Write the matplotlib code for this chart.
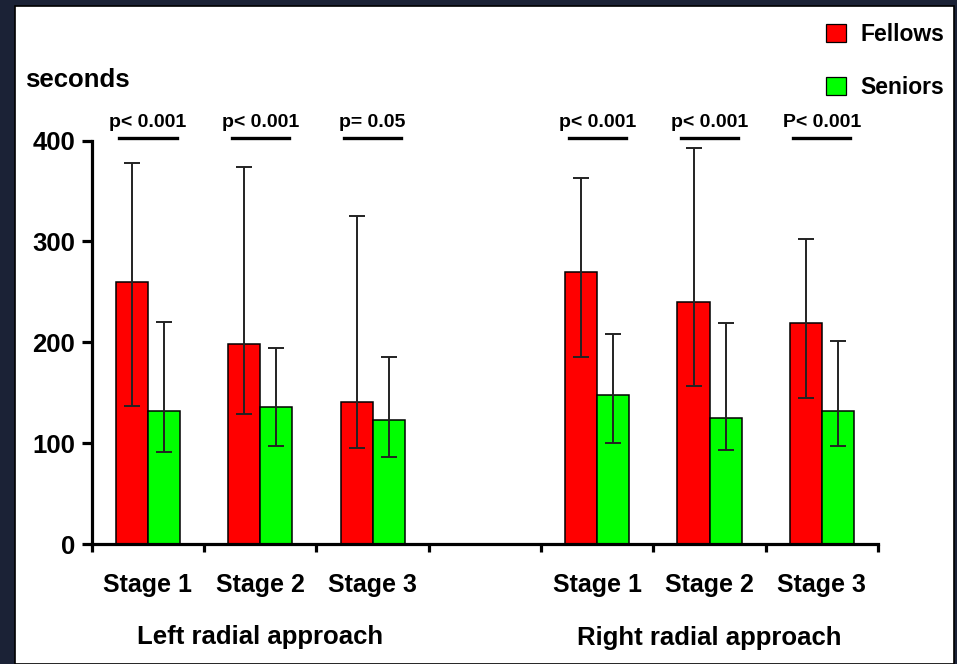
import numpy as np
import matplotlib
matplotlib.use("Agg")
from matplotlib import pyplot as plt
from matplotlib.patches import Patch, Rectangle
from matplotlib.transforms import blended_transform_factory

plt.rcParams['font.family'] = ['Liberation Sans', 'DejaVu Sans']
plt.rcParams['font.weight'] = 'bold'

# data (seconds)
stages = ["Stage 1", "Stage 2", "Stage 3", "Stage 1", "Stage 2", "Stage 3"]
xpos = [0, 1, 2, 4, 5, 6]
fellows = [260, 198, 141, 270, 240, 219]
fellows_lo = [137, 129, 95, 185, 157, 145]
fellows_hi = [378, 374, 325, 363, 393, 302]
seniors = [132, 136, 123, 148, 125, 132]
seniors_lo = [91, 97, 86, 100, 93, 97]
seniors_hi = [220, 194, 185, 208, 219, 201]
pvalues = ["p< 0.001", "p< 0.001", "p= 0.05", "p< 0.001", "p< 0.001", "P< 0.001"]
approaches = ["Left radial approach", "Right radial approach"]

W, H = 957, 664
fig = plt.figure(figsize=(W / 100, H / 100), dpi=100, facecolor="#1b2236")
fig.patches.append(Rectangle((15 / W, 0), (954 - 15) / W, (H - 6) / H, transform=fig.transFigure,
                             facecolor="white", edgecolor="black", lw=1.2, zorder=-5))

ax = fig.add_axes([91.7 / W, (H - 544) / H, (878 - 91.7) / W, (544 - 140.5) / H])
ax.patch.set_alpha(0)

x = np.array(xpos, float)
bw = 0.285
err_kw = dict(ecolor="#222222", elinewidth=1.4, capsize=5.5, capthick=1.4)
fel_err = [np.array(fellows) - np.array(fellows_lo), np.array(fellows_hi) - np.array(fellows)]
sen_err = [np.array(seniors) - np.array(seniors_lo), np.array(seniors_hi) - np.array(seniors)]
ax.bar(x - bw / 2, fellows, bw, color="#ff0000", edgecolor="black", lw=1.1,
       yerr=fel_err, error_kw=err_kw, label="Fellows")
ax.bar(x + bw / 2, seniors, bw, color="#00ff00", edgecolor="black", lw=1.1,
       yerr=sen_err, error_kw=err_kw, label="Seniors")

ax.set_xlim(-0.5, 6.5)
ax.set_ylim(0, 400)
for s in ["top", "right"]:
    ax.spines[s].set_visible(False)
for s in ["left", "bottom"]:
    ax.spines[s].set_linewidth(2.3)

ax.set_yticks([0, 100, 200, 300, 400])
ax.tick_params(axis="y", direction="out", length=7, width=2.3, pad=5, labelsize=18.5)
ax.set_xticks(xpos)
ax.set_xticklabels(stages)
ax.set_xticks(np.arange(-0.5, 7, 1), minor=True)
ax.tick_params(axis="x", which="major", length=0, pad=21, labelsize=18)
ax.tick_params(axis="x", which="minor", direction="out", length=6, width=2.3)

# significance bars
for xi, p in zip(xpos, pvalues):
    ax.plot([xi - 0.255, xi + 0.255], [402, 402], color="black", lw=2.4, clip_on=False)
    ax.text(xi, 418, p, ha="center", va="center", fontsize=14, clip_on=False)

fig.text(25 / W, 1 - 80 / H, "seconds", ha="left", va="center", fontsize=18.5)

trans = blended_transform_factory(ax.transData, fig.transFigure)
ax.text(1, 1 - 637 / H, approaches[0], transform=trans, ha="center", va="center", fontsize=18.5)
ax.text(5, 1 - 638 / H, approaches[1], transform=trans, ha="center", va="center", fontsize=18.5)

handles = [Patch(facecolor="#ff0000", edgecolor="black", lw=0.9, label="Fellows"),
           Patch(facecolor="#00ff00", edgecolor="black", lw=0.9, label="Seniors")]
fig.legend(handles=handles, loc="upper right", bbox_to_anchor=(944 / W, 1 - 23 / H),
           frameon=False, fontsize=16.5, handlelength=0.87, handleheight=0.8,
           handletextpad=0.6, labelspacing=1.3, borderpad=0, borderaxespad=0)

fig.savefig("out.png", dpi=100, facecolor=fig.get_facecolor())
